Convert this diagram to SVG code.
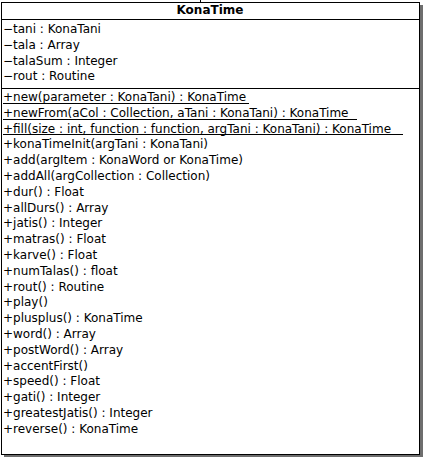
<svg xmlns="http://www.w3.org/2000/svg" width="423" height="457" viewBox="0 0 423 457">
<style>
.t{font-family:"DejaVu Sans","Liberation Sans",sans-serif;font-size:12px;fill:#000}
.h{font-family:"DejaVu Sans","Liberation Sans",sans-serif;font-size:12px;font-weight:bold;fill:#000}
.ln{stroke:#000;stroke-width:1;fill:none}
.ul{stroke:#000;stroke-width:1}
</style>
<rect x="0" y="0" width="423" height="457" fill="#fff"/>
<g id="KonaTime">
<rect x="420" y="5" width="3" height="452" fill="#6e6e6e"/>
<rect x="4" y="455" width="419" height="2" fill="#6e6e6e"/>
<rect x="1.5" y="2.5" width="418" height="452" fill="#fff" class="ln"/>
<line x1="1.5" y1="19.5" x2="419.5" y2="19.5" class="ln"/>
<line x1="1.5" y1="88.5" x2="419.5" y2="88.5" class="ln"/>
<text x="210" y="14" text-anchor="middle" class="h">KonaTime</text>
<text x="3" y="33" class="t">−tani : KonaTani</text>
<text x="3" y="48.8" class="t">−tala : Array</text>
<text x="3" y="64.6" class="t">−talaSum : Integer</text>
<text x="3" y="80.4" class="t">−rout : Routine</text>
<text x="3" y="101" class="t">+new(parameter : KonaTani) : KonaTime</text>
<line x1="3" y1="103.5" x2="249" y2="103.5" class="ul"/>
<text x="3" y="116.8" class="t">+newFrom(aCol : Collection, aTani : KonaTani) : KonaTime</text>
<line x1="3" y1="119.5" x2="357" y2="119.5" class="ul"/>
<text x="3" y="132.6" class="t">+fill(size : int, function : function, argTani : KonaTani) : KonaTime</text>
<line x1="3" y1="134.5" x2="403" y2="134.5" class="ul"/>
<text x="3" y="148.4" class="t">+konaTimeInit(argTani : KonaTani)</text>
<text x="3" y="164.2" class="t">+add(argItem : KonaWord or KonaTime)</text>
<text x="3" y="180" class="t">+addAll(argCollection : Collection)</text>
<text x="3" y="195.8" class="t">+dur() : Float</text>
<text x="3" y="211.6" class="t">+allDurs() : Array</text>
<text x="3" y="227.4" class="t">+jatis() : Integer</text>
<text x="3" y="243.2" class="t">+matras() : Float</text>
<text x="3" y="259" class="t">+karve() : Float</text>
<text x="3" y="274.8" class="t">+numTalas() : float</text>
<text x="3" y="290.6" class="t">+rout() : Routine</text>
<text x="3" y="306.4" class="t">+play()</text>
<text x="3" y="322.2" class="t">+plusplus() : KonaTime</text>
<text x="3" y="338" class="t">+word() : Array</text>
<text x="3" y="353.8" class="t">+postWord() : Array</text>
<text x="3" y="369.6" class="t">+accentFirst()</text>
<text x="3" y="385.4" class="t">+speed() : Float</text>
<text x="3" y="401.2" class="t">+gati() : Integer</text>
<text x="3" y="417" class="t">+greatestJatis() : Integer</text>
<text x="3" y="432.8" class="t">+reverse() : KonaTime</text>
</g>
<g id="connectors">
<line x1="200.5" y1="0" x2="200.5" y2="2" class="ln"/>
</g>
</svg>
